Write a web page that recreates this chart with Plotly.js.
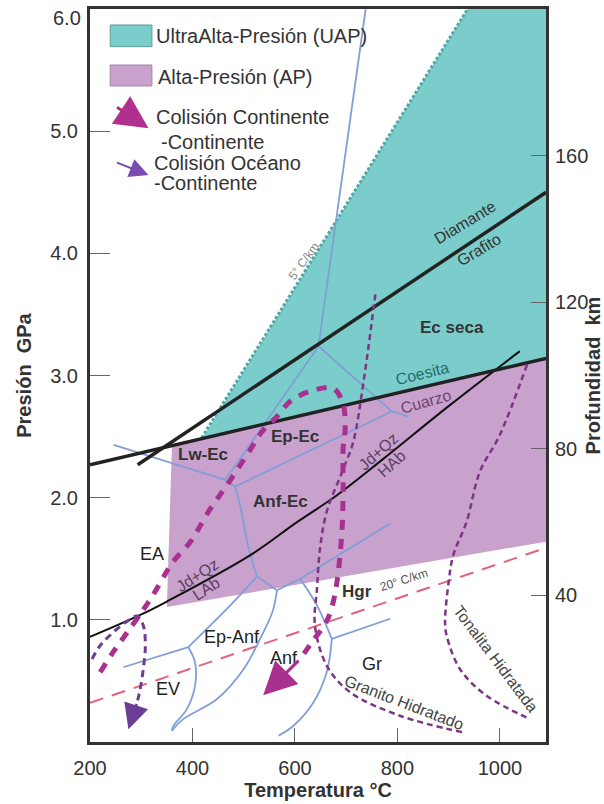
<!DOCTYPE html>
<html><head><meta charset="utf-8">
<script src="https://cdn.plot.ly/plotly-3.0.1.min.js"></script>
<style>html,body{margin:0;padding:0;background:#fff}#chart{width:604px;height:804px}</style>
</head><body><div id="chart"></div>
<script>
// ---------- DATA (T in °C, P in GPa) ----------
// Ultra-high pressure field (UAP) and high pressure field (AP)
const uapT = [418, 937, 1090, 1090];
const uapP = [2.48, 6.0, 6.0, 3.14];
const apT = [360, 1090, 1090, 350];
const apP = [2.43, 3.14, 1.64, 1.105];
// 5 °C/km limit (dotted edge of UAP)
const edgeT = [418, 937];
const edgeP = [2.49, 6.0];
// 20 °C/km geotherm
const geoT = [200, 1090];
const geoP = [0.32, 1.59];
// reactions
const coesT = [200, 1090];
const coesP = [2.27, 3.14];
const diamT = [293, 1090];
const diamP = [2.27, 4.50];
const jdT = [200, 298, 350, 513, 604, 682, 773, 903, 1039];
const jdP = [0.86, 1.04, 1.15, 1.53, 1.80, 2.02, 2.32, 2.76, 3.20];
// facies boundaries
const fA_T = [738, 646], fA_P = [6.0, 3.24];
const fB_T = [646, 464], fB_P = [3.24, 2.145];
const fC_T = [646, 789], fC_P = [3.24, 2.706];
const fC2_T = [789, 822], fC2_P = [2.706, 2.665];
const fD_T = [483, 789], fD_P = [2.09, 2.706];
const fE_T = [246, 464], fE_P = [2.433, 2.145];
const fF_T = [464, 483], fF_P = [2.145, 2.09];
const fG_T = [483, 493, 503, 513, 526], fG_P = [2.09, 1.94, 1.72, 1.53, 1.355];
const fH_T = [526, 565], fH_P = [1.355, 1.242];
const fI_T = [565, 610, 786], fI_P = [1.242, 1.337, 1.789];
const fJ_T = [610, 643, 672], fJ_P = [1.337, 1.119, 0.844];
const fK_T = [672, 786], fK_P = [0.844, 1.009];
const fL_T = [672, 662, 636, 597, 568], fL_P = [0.844, 0.571, 0.324, 0.133, 0.051];
const fM_T = [526, 480, 428, 392], fM_P = [1.355, 1.146, 0.926, 0.776];
const fN_T = [265, 392], fN_P = [0.612, 0.776];
const fO_T = [392, 405, 405, 389, 363, 360], fO_P = [0.776, 0.653, 0.462, 0.269, 0.133, 0.092];
const fP_T = [565, 556, 532, 500, 448, 382, 360], fP_P = [1.242, 1.064, 0.844, 0.598, 0.352, 0.187, 0.092];
// P-T paths
const ccT = [220, 245, 273, 318, 362, 396, 435, 468, 513, 536, 565, 591, 630, 675, 694, 698, 694, 694, 692, 682, 671, 659, 636, 610];
const ccP = [0.571, 0.735, 0.899, 1.170, 1.474, 1.639, 1.910, 2.107, 2.394, 2.542, 2.665, 2.789, 2.871, 2.895, 2.764, 2.567, 2.402, 2.074, 1.745, 1.310, 1.088, 0.965, 0.834, 0.678];
const ccTipT = 538, ccTipP = 0.382;
const ocT = [204, 220, 246, 275, 292, 304, 308, 304, 298, 292];
const ocP = [0.68, 0.79, 0.90, 0.995, 1.031, 0.954, 0.79, 0.598, 0.434, 0.324];
const ocTipT = 275, ocTipP = 0.105;
// wet solidi
const grT = [757, 734, 714, 695, 662, 649, 643, 639, 662, 708, 805, 929];
const grP = [3.665, 2.953, 2.46, 2.241, 1.885, 1.584, 1.255, 0.957, 0.626, 0.407, 0.215, 0.078];
const toT = [1053, 1000, 961, 935, 909, 900, 893, 896, 922, 974, 1059];
const toP = [3.09, 2.515, 2.214, 1.803, 1.529, 1.31, 0.981, 0.872, 0.598, 0.379, 0.187];
// axis ticks
const xTicks = [200, 400, 600, 800, 1000];
const yTicks = [1, 2, 3, 4, 5, 6];
const yTickText = ['1.0', '2.0', '3.0', '4.0', '5.0', ''];
const yTopLabel = '6.0';
const depthTicks = [40, 80, 120, 160];
// field labels
const boldText = ['Lw-Ec', 'Ep-Ec', 'Anf-Ec', 'Ec seca', 'Hgr'];
const boldT = [421, 600, 571, 907, 721];
const boldP = [2.35, 2.50, 1.97, 3.39, 1.23];
const plainText = ['EA', 'Ep-Anf', 'Anf', 'EV', 'Gr'];
const plainT = [321, 477, 578, 353, 750];
const plainP = [1.54, 0.86, 0.69, 0.43, 0.64];

// ---------- STYLE ----------
const FONT = 'Liberation Sans, Arial, sans-serif';
const BLUE = '#819fd6';
const traces = [];
function line(x, y, color, width, dash, spline, extra) {
  const t = {x: x, y: y, type: 'scatter', mode: 'lines', hoverinfo: 'skip', showlegend: false,
    line: {color: color, width: width, dash: dash || 'solid', shape: spline ? 'spline' : 'linear'}};
  if (extra) Object.assign(t, extra);
  traces.push(t);
}
// fills
traces.push({x: apT, y: apP, type: 'scatter', mode: 'lines', fill: 'toself', fillcolor: '#c8a1cd',
  line: {width: 0, color: 'rgba(0,0,0,0)'}, hoverinfo: 'skip', showlegend: false});
traces.push({x: uapT, y: uapP, type: 'scatter', mode: 'lines', fill: 'toself', fillcolor: '#7bcdcb',
  line: {width: 0, color: 'rgba(0,0,0,0)'}, hoverinfo: 'skip', showlegend: false});
line(edgeT, edgeP, '#4fa9a5', 3, '3px,2px');
// facies boundaries
[[fA_T, fA_P, 0], [fB_T, fB_P, 0], [fC_T, fC_P, 0], [fC2_T, fC2_P, 0], [fD_T, fD_P, 0], [fE_T, fE_P, 0],
 [fF_T, fF_P, 0], [fG_T, fG_P, 1], [fH_T, fH_P, 0], [fI_T, fI_P, 0], [fJ_T, fJ_P, 1], [fK_T, fK_P, 0],
 [fL_T, fL_P, 1], [fM_T, fM_P, 1], [fN_T, fN_P, 0], [fO_T, fO_P, 1], [fP_T, fP_P, 1]]
  .forEach(s => line(s[0], s[1], BLUE, 1.8, 'solid', s[2]));
// geotherm
line(geoT, geoP, '#e0647f', 2, '14px,9px');
// reactions
line(jdT, jdP, '#111', 2, 'solid', true);
line(coesT, coesP, '#222', 3.5);
line(diamT, diamP, '#222', 3.5);
// wet solidi
line(grT, grP, '#7d3585', 2.5, '6px,4px', true);
line(toT, toP, '#7d3585', 2.5, '6px,4px', true);
// oceanic path
line(ocT, ocP, '#6b3d93', 3, '7px,5px', true);
// continental path
line(ccT, ccP, '#a8318f', 5, '10px,9px', true);

// ---------- ANNOTATIONS ----------
const ann = [];
function txt(text, x, y, size, color, angle, opts) {
  const a = {text: text, x: x, y: y, xref: 'x', yref: 'y', showarrow: false,
    font: {family: FONT, size: size, color: color}, textangle: angle || 0};
  if (opts) Object.assign(a, opts);
  ann.push(a);
}
boldText.forEach((t, i) => txt('<b>' + t + '</b>', boldT[i], boldP[i], 17, '#333'));
plainText.forEach((t, i) => txt(t, plainT[i], plainP[i], 18, '#222'));
txt('Diamante', 932, 4.25, 16, '#333', -31);
txt('Grafito', 960, 4.03, 16, '#333', -31);
txt('Coesita', 848, 3.02, 16, '#226d69', -14);
txt('Cuarzo', 856, 2.79, 16, '#6c4770', -16);
txt('Jd+Qz', 763, 2.38, 16, '#5d3e5f', -42);
txt('HAb', 789, 2.28, 16, '#5d3e5f', -42);
txt('Jd+Qz', 409, 1.365, 16, '#5d3e5f', -33);
txt('LAb', 428, 1.255, 16, '#5d3e5f', -33);
txt('Granito Hidratado', 812, 0.324, 16, '#444', 21);
txt('Tonalita Hidratada', 991, 0.68, 16, '#444', 53);
txt('20° C/km', 812, 1.33, 12, '#555', -18);
txt('5° C/km', 617, 3.94, 12, '#888', -54);
// top pressure tick label, kept inside the page
ann.push({text: yTopLabel, x: 0, y: 6.0, xref: 'paper', yref: 'y', xanchor: 'right', yanchor: 'top',
  xshift: -7, yshift: 4, showarrow: false, font: {family: FONT, size: 20, color: '#333'}});
// P-T path arrowheads
ann.push({x: ccTipT, y: ccTipP, ax: ccT[ccT.length - 1], ay: ccP[ccP.length - 1], xref: 'x', yref: 'y',
  axref: 'x', ayref: 'y', text: '', showarrow: true, arrowhead: 2, arrowsize: 2.2, arrowwidth: 3,
  arrowcolor: '#a8318f', standoff: 0});
ann.push({x: ocTipT, y: ocTipP, ax: ocT[ocT.length - 1], ay: ocP[ocP.length - 1], xref: 'x', yref: 'y',
  axref: 'x', ayref: 'y', text: '', showarrow: true, arrowhead: 2, arrowsize: 2.0, arrowwidth: 2.5,
  arrowcolor: '#6b3d93', standoff: 0});
// legend
function ltxt(text, x, y) {
  ann.push({text: text, x: x, y: y, xref: 'paper', yref: 'paper', xanchor: 'left', yanchor: 'middle',
    showarrow: false, font: {family: FONT, size: 20, color: '#333'}});
}
ltxt('UltraAlta-Presión (UAP)', 0.140, 0.9632);
ltxt('Alta-Presión (AP)', 0.144, 0.9072);
ltxt('Colisión Continente', 0.140, 0.8527);
ltxt('-Continente', 0.152, 0.8190);
ltxt('Colisión Océano', 0.135, 0.7895);
ltxt('-Continente', 0.135, 0.7622);
ann.push({x: 0.1283, y: 0.8372, xref: 'paper', yref: 'paper', ax: -33, ay: -22, text: '', showarrow: true,
  arrowhead: 2, arrowsize: 2.2, arrowwidth: 3, arrowcolor: '#b0308f', standoff: 0});
ann.push({x: 0.1283, y: 0.7735, xref: 'paper', yref: 'paper', ax: -33, ay: -13, text: '', showarrow: true,
  arrowhead: 2, arrowsize: 1.9, arrowwidth: 2, arrowcolor: '#7a4bb0', standoff: 0});

const shapes = [
  {type: 'rect', xref: 'paper', yref: 'paper', x0: 0.0443, x1: 0.1358, y0: 0.9486, y1: 0.9782,
   fillcolor: '#7bcdcb', line: {color: '#5c9e9b', width: 1}},
  {type: 'rect', xref: 'paper', yref: 'paper', x0: 0.0443, x1: 0.1358, y0: 0.8950, y1: 0.9236,
   fillcolor: '#c8a1cd', line: {color: '#a384a7', width: 1}}
];

const axisCommon = {showgrid: false, zeroline: false, showline: true, linewidth: 3, linecolor: '#333',
  mirror: true, ticks: 'inside', tickcolor: '#666', tickwidth: 1, automargin: false,
  tickfont: {family: FONT, size: 20, color: '#333'}};

const layout = {
  width: 604, height: 804, margin: {l: 90, r: 58, t: 9, b: 62},
  paper_bgcolor: '#fff', plot_bgcolor: '#fff', showlegend: false,
  font: {family: FONT, color: '#333'},
  xaxis: Object.assign({}, axisCommon, {range: [200, 1090], tickvals: xTicks, ticklen: 14,
    ticklabelstandoff: 6,
    title: {text: '<b>Temperatura °C</b>', font: {family: FONT, size: 20, color: '#333'}, standoff: 0}}),
  yaxis: Object.assign({}, axisCommon, {range: [0, 6.0005], tickvals: yTicks, ticktext: yTickText, ticklen: 20,
    ticklabelstandoff: 5,
    title: {text: '<b>Presión\u00a0\u00a0GPa</b>', font: {family: FONT, size: 20, color: '#333'}, standoff: 14}}),
  yaxis2: Object.assign({}, axisCommon, {overlaying: 'y', side: 'right', range: [0, 200.02], tickvals: depthTicks,
    ticklen: 15, ticklabelstandoff: 2, mirror: false,
    title: {text: '<b>Profundidad\u00a0\u00a0km</b>', font: {family: FONT, size: 20, color: '#333'}, standoff: 10}}),
  annotations: ann, shapes: shapes
};
// dummy trace to show y2 axis
traces.push({x: [200], y: [0], yaxis: 'y2', type: 'scatter', mode: 'markers', marker: {opacity: 0},
  hoverinfo: 'skip', showlegend: false});

Plotly.newPlot('chart', traces, layout, {displayModeBar: false, staticPlot: true});
</script></body></html>
